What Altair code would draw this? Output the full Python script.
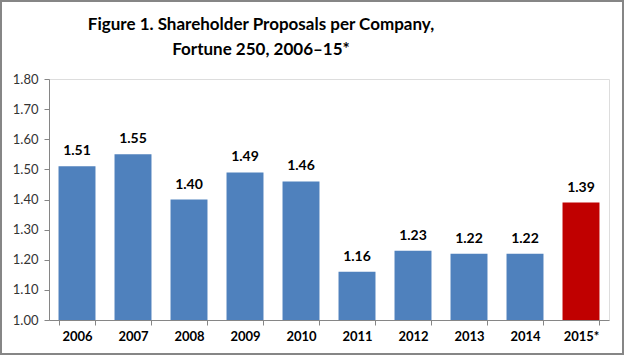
import altair as alt
import pandas as pd

years = ["2006", "2007", "2008", "2009", "2010", "2011", "2012", "2013", "2014", "2015*"]
values = [1.51, 1.55, 1.40, 1.49, 1.46, 1.16, 1.23, 1.22, 1.22, 1.39]
colors = ["#4F81BD"] * 9 + ["#C00000"]
y_ticks = [1.0, 1.1, 1.2, 1.3, 1.4, 1.5, 1.6, 1.7, 1.8]

df = pd.DataFrame({"year": years, "value": values, "color": colors, "base": [1.0] * len(years)})

FONT = "Lato"
W, H = 560, 241

x = alt.X("year:N", sort=years, title=None,
          scale=alt.Scale(paddingInner=0.34, paddingOuter=0.17),
          axis=alt.Axis(labelAngle=0, labelFont=FONT, labelFontSize=13, labelFontWeight="bold",
                        labelColor="#000000", labelPadding=5, tickBand="extent", tickSize=5,
                        tickColor="#868686", domainColor="#868686", ticks=True, grid=False))

y = alt.Y("value:Q", title=None,
          scale=alt.Scale(domain=[1.0, 1.8], zero=False, nice=False),
          axis=alt.Axis(values=y_ticks, format=".2f", labelFont=FONT, labelFontSize=13,
                        labelColor="#333333", labelPadding=6, tickSize=5, tickColor="#868686",
                        labelOverlap=False, labelFlush=False, labelBound=False,
                        domainColor="#868686", grid=False))

bars = alt.Chart(df).mark_bar().encode(
    x=x, y=y, y2="base:Q", color=alt.Color("color:N", scale=None)
)

labels = alt.Chart(df).mark_text(baseline="bottom", dy=-8, font=FONT, fontSize=14,
                                 fontWeight="bold", color="#000000").encode(
    x=x, y=y, text=alt.Text("value:Q", format=".2f")
)

border = alt.Chart(df).mark_rect(fill=None, stroke="#868686", strokeWidth=2, clip=False).encode(
    x=alt.value(-48), x2=alt.value(W + 14), y=alt.value(-78), y2=alt.value(H + 34)
)

chart = alt.layer(bars, labels, border).properties(
    width=W, height=H,
    padding={"left": 49, "top": 79, "right": 15, "bottom": 35},
    autosize=alt.AutoSizeParams(type="none"),
    title=alt.TitleParams(
        ["Figure 1. Shareholder Proposals per Company,", "Fortune 250, 2006\u201315*"],
        font=FONT, fontSize=17, fontWeight="bold", color="#000000",
        anchor="middle", dx=-68, offset=0, dy=59, lineHeight=25
    )
).configure_view(stroke=None).configure(background="#FFFFFF")

chart.save("out.html", embed_options={"renderer": "svg", "actions": False})
